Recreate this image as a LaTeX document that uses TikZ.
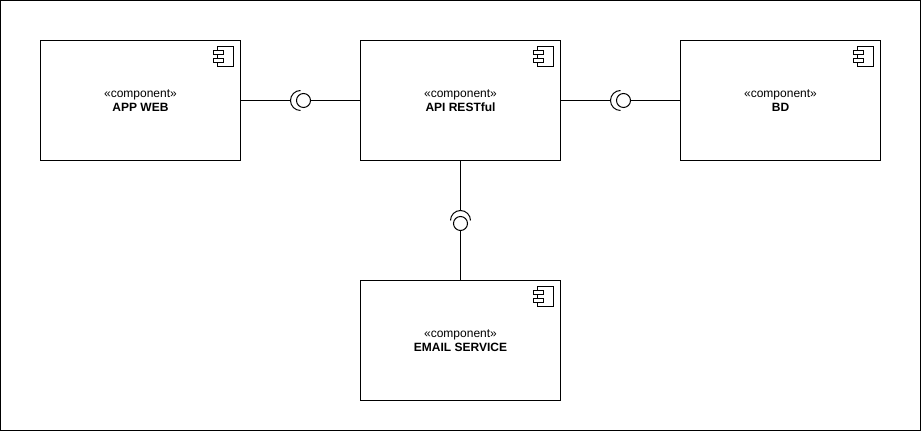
\documentclass[tikz,border=0pt]{standalone}
\usepackage{fontspec}
\setmainfont{Liberation Sans}
\tikzset{
  compbox/.style={draw,line width=.75pt,outer sep=0pt,minimum width=150pt,minimum height=90pt,align=center,
    font=\fontsize{9}{10.5}\selectfont},
  provided/.style={draw,circle,line width=.75pt,outer sep=0pt,inner sep=0pt,minimum size=10.5pt},
  wire/.style={line width=.75pt}
}
\begin{document}
\begin{tikzpicture}[x=.75pt,y=.75pt]
    \useasboundingbox (0,0) rectangle (921,431);
    \node[draw,line width=.75pt,outer sep=0pt,inner sep=0pt,minimum width=690pt,minimum height=322.5pt] (frame) at (460.5,215.5) {};
    \node[compbox] (web) at (140.5,330.5) {«component»\\\textbf{APP WEB}};
    \node[compbox] (api) at (460.5,330.5) {«component»\\\textbf{API RESTful}};
    \node[compbox] (bd) at (780.5,330.5) {«component»\\\textbf{BD}};
    \node[compbox] (email) at (460.5,90.5) {«component»\\\textbf{EMAIL SERVICE}};
    % component icons
    \foreach\n in {web,api,bd,email}{
      \begin{scope}[shift={(\n.north east)}]
        \draw[wire] (-23,-6) rectangle (-7,-26);
        \draw[wire,fill=white] (-27,-10) rectangle (-17,-14);
        \draw[wire,fill=white] (-27,-18) rectangle (-17,-22);
      \end{scope}
    }
    % interfaces
    \node[provided] (ifweb) at (303.5,330.5) {};
    \node[provided] (ifbd) at (623.5,330.5) {};
    \node[provided] (ifemail) at (460.5,207.5) {};
    \coordinate (reqweb) at (290.5,330.5);
    \coordinate (reqbd) at (610.5,330.5);
    \coordinate (reqemail) at (460.5,220.5);
    \draw[wire] (reqweb) ++(10,10) arc[start angle=90,end angle=270,radius=10];
    \draw[wire] (reqbd) ++(10,10) arc[start angle=90,end angle=270,radius=10];
    \draw[wire] (reqemail) ++(-10,-10) arc[start angle=180,end angle=0,radius=10];
    \draw[wire] (web.east) -- (reqweb);
    \draw[wire] (ifweb.east) -- (api.west);
    \draw[wire] (api.east) -- (reqbd);
    \draw[wire] (ifbd.east) -- (bd.west);
    \draw[wire] (api.south) -- (reqemail);
    \draw[wire] (ifemail.south) -- (email.north);
  \end{tikzpicture}
\end{document}
